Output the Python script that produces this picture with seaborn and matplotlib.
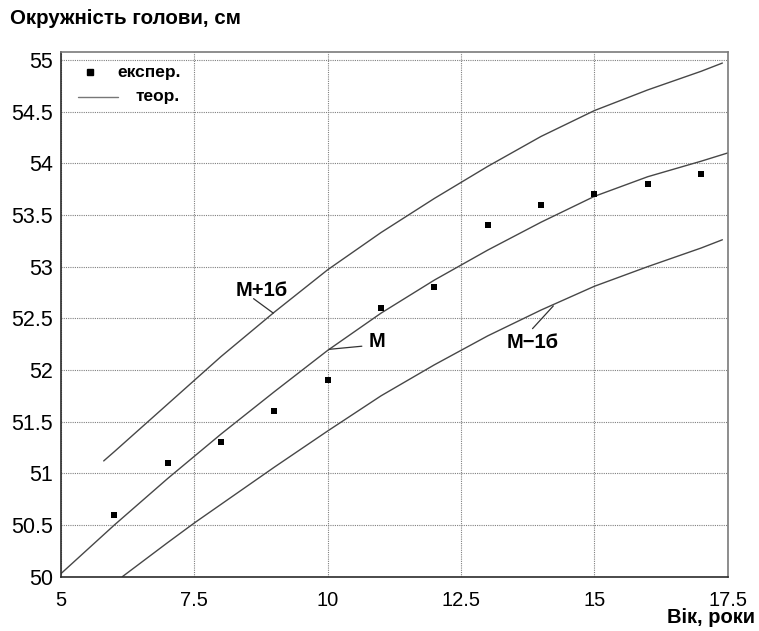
import matplotlib
matplotlib.use("Agg")
import matplotlib.pyplot as plt
import seaborn as sns

# Experimental head circumference by age
ages_exp = [6, 7, 8, 9, 10, 11, 12, 13, 14, 15, 16, 17]
circ_exp = [50.6, 51.1, 51.3, 51.6, 51.9, 52.6, 52.8, 53.4, 53.6, 53.7, 53.8, 53.9]

# Theoretical mean curve M
ages_m = [5, 6, 7, 8, 9, 10, 11, 12, 13, 14, 15, 16, 17, 17.5]
circ_m = [50.03, 50.50, 50.95, 51.38, 51.79, 52.19, 52.55, 52.87, 53.16, 53.43, 53.68, 53.87, 54.02, 54.10]

# M + 1 sigma
ages_plus = [5.8, 6, 7, 8, 9, 10, 11, 12, 13, 14, 15, 16, 17, 17.4]
circ_plus = [51.12, 51.21, 51.67, 52.13, 52.56, 52.97, 53.33, 53.66, 53.97, 54.26, 54.51, 54.71, 54.89, 54.97]

# M - 1 sigma
ages_minus = [6.15, 7, 7.5, 8, 9, 10, 11, 12, 13, 14, 15, 16, 17, 17.4]
circ_minus = [50.0, 50.33, 50.52, 50.70, 51.06, 51.41, 51.75, 52.05, 52.33, 52.58, 52.81, 53.00, 53.18, 53.26]

x_ticks = [5, 7.5, 10, 12.5, 15, 17.5]
x_tick_labels = ["5", "7.5", "10", "12.5", "15", "17.5"]
y_ticks = [50, 50.5, 51, 51.5, 52, 52.5, 53, 53.5, 54, 54.5, 55]
y_tick_labels = ["50", "50.5", "51", "51.5", "52", "52.5", "53", "53.5", "54", "54.5", "55"]

sns.set_theme(style="white")
plt.rcParams["font.family"] = ["Liberation Sans", "DejaVu Sans"]
plt.rcParams["text.color"] = "black"

fig = plt.figure(figsize=(7.59, 6.31), dpi=100)
ax = fig.add_axes([0.0804, 0.0861, 0.8784, 0.8320])

line_color = "#474747"
curves = [(ages_m, circ_m), (ages_plus, circ_plus), (ages_minus, circ_minus)]
for xs, ys in curves:
    sns.lineplot(x=xs, y=ys, ax=ax, color=line_color, linewidth=1.0, sort=True,
                 estimator=None)

sns.scatterplot(x=ages_exp, y=circ_exp, ax=ax, marker="s", s=16, color="black",
                edgecolor="black", linewidth=0, zorder=5)

ax.set_xlim(5, 17.5)
ax.set_ylim(50, 55.08)
ax.set_xticks(x_ticks)
ax.set_xticklabels(x_tick_labels)
ax.set_yticks(y_ticks)
ax.set_yticklabels(y_tick_labels)
ax.tick_params(axis="both", length=5, width=1, color="black",
               direction="out", labelcolor="black")
ax.tick_params(axis="y", labelsize=15.5, pad=1)
ax.tick_params(axis="x", labelsize=14.5, pad=5)

ax.grid(True, linestyle=(0, (1, 1)), color="#808080", linewidth=0.8)
ax.set_axisbelow(True)

for side in ["left", "bottom"]:
    ax.spines[side].set_color("#2b2b2b")
    ax.spines[side].set_linewidth(1.2)
for side in ["top", "right"]:
    ax.spines[side].set_color("#7a7a7a")
    ax.spines[side].set_linewidth(1.2)

ax.set_xlabel("")
ax.set_ylabel("")

# Axis titles
fig.text(0.013, 0.970, "Окружність голови, см", fontsize=14.8, fontweight="bold",
         ha="left", va="center", color="black")
fig.text(0.995, 0.021, "Вік, роки", fontsize=14.5, fontweight="bold",
         ha="right", va="center", color="black")

# Legend
ax.plot([0.0435], [0.9606], marker="s", markersize=5, color="black",
        transform=ax.transAxes, linestyle="none", clip_on=False)
ax.text(0.084, 0.9606, "експер.", transform=ax.transAxes, fontsize=12.5,
        fontweight="bold", ha="left", va="center", color="black")
ax.plot([0.0255, 0.0855], [0.9137, 0.9137], color="#777777", linewidth=1.0,
        transform=ax.transAxes)
ax.text(0.111, 0.9137, "теор.", transform=ax.transAxes, fontsize=12.5,
        fontweight="bold", ha="left", va="center", color="black")

# Curve labels with leader lines
labels = [
    ("М+1б", (8.77, 52.77), (8.61, 52.69), (8.98, 52.55)),
    ("М", (10.93, 52.28), (10.64, 52.23), (10.03, 52.20)),
    ("М−1б", (13.85, 52.27), (13.84, 52.40), (14.23, 52.62)),
]
for text, pos, start, tip in labels:
    ax.text(pos[0], pos[1], text, fontsize=14.5, fontweight="bold",
            ha="center", va="center", color="black")
    ax.plot([start[0], tip[0]], [start[1], tip[1]], color="#333333",
            linewidth=0.9)

fig.savefig("out.png", dpi=100, facecolor="white")
